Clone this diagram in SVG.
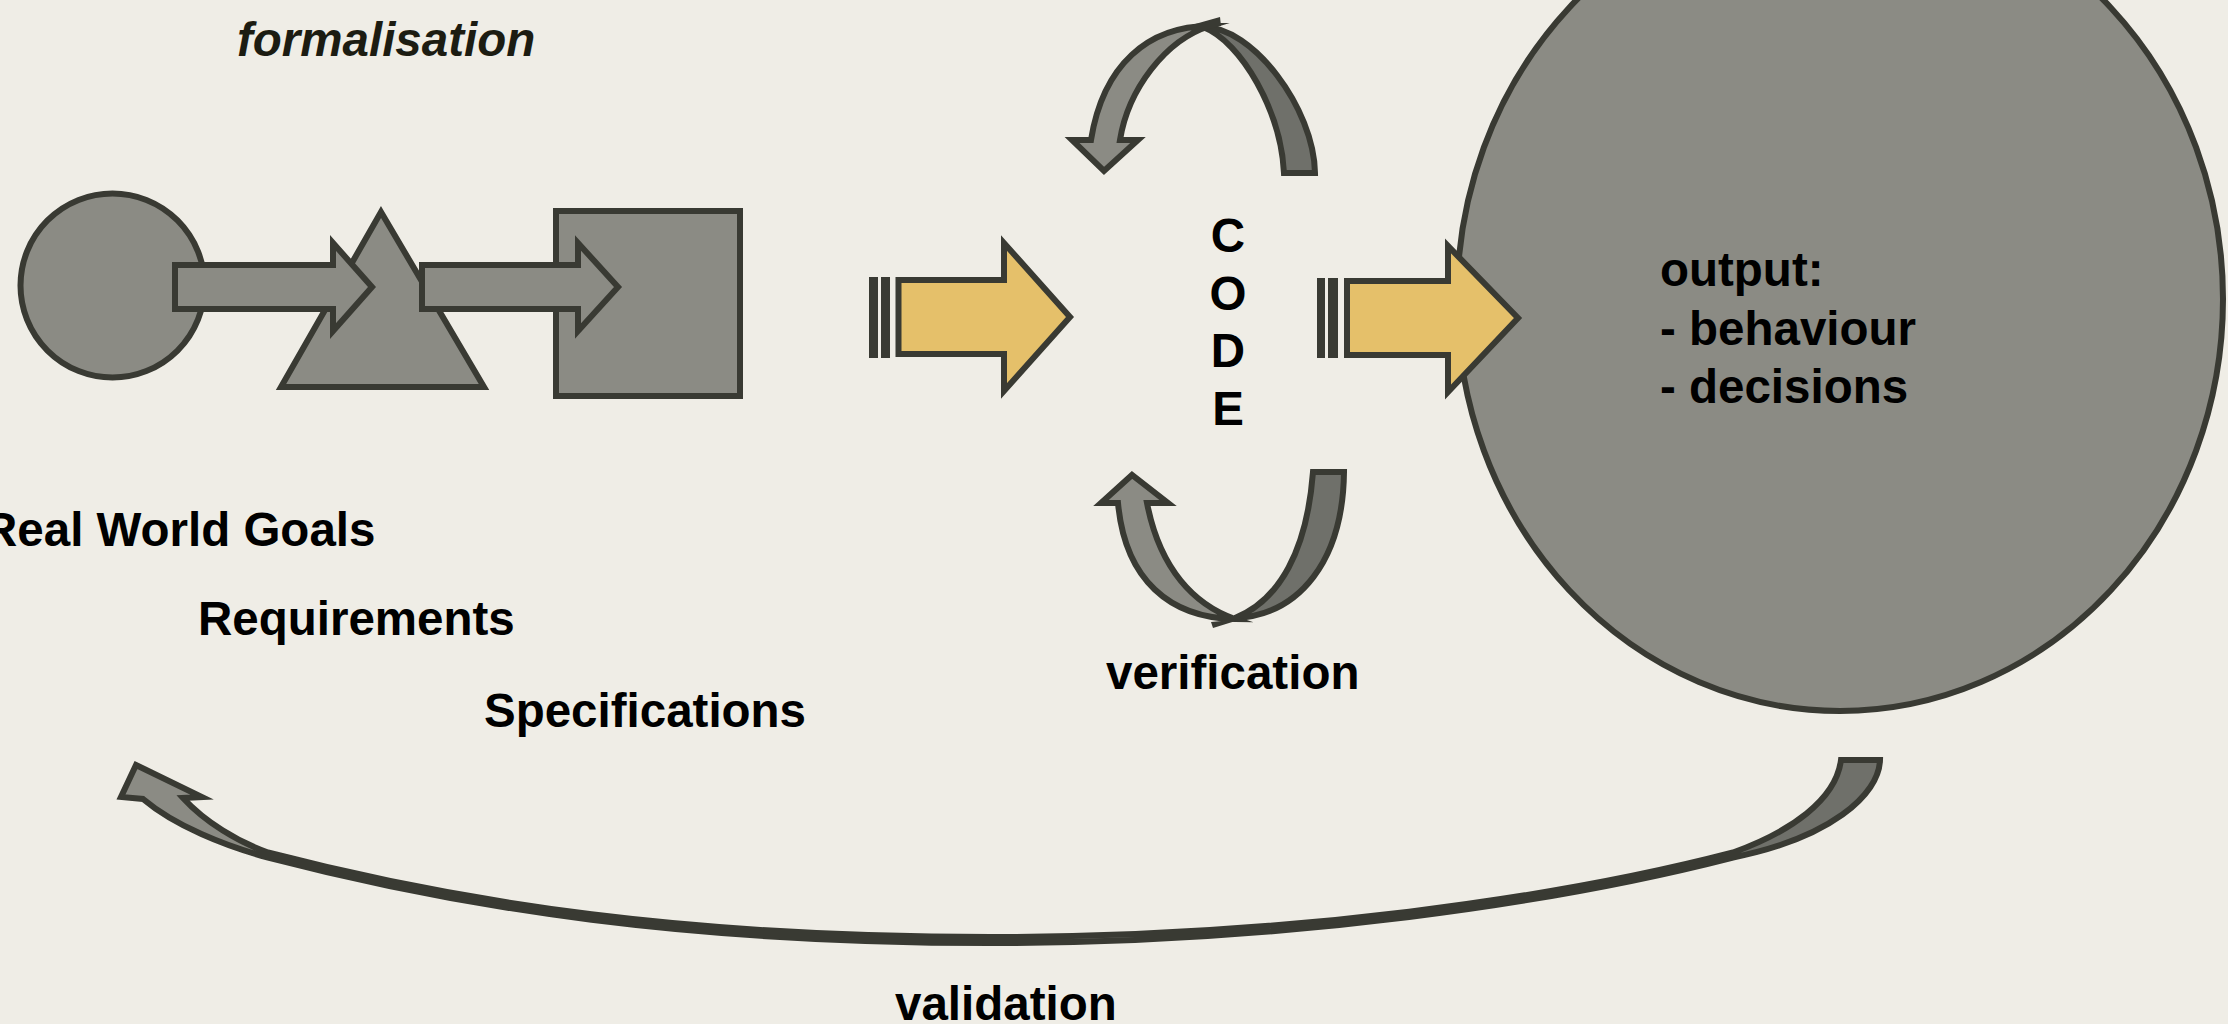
<svg xmlns="http://www.w3.org/2000/svg" width="2228" height="1024" viewBox="0 0 2228 1024">
  <style>
    .shape { fill: #8b8b84; stroke: #393a33; stroke-width: 6; stroke-linejoin: miter; stroke-miterlimit: 10; }
    .back { fill: #6f706a; stroke: #393a33; stroke-width: 6; stroke-linejoin: miter; }
    .yellow { fill: #e5c06a; stroke: #393a33; stroke-width: 6; stroke-miterlimit: 10; }
    .bar { fill: #393a33; }
    .ink { fill: #393a33; }
    .lbl { font-family: "Liberation Sans", Arial, sans-serif; font-weight: bold; font-size: 47.5px; fill: #000; }
    .ital { font-style: italic; fill: #1c1c12; }
  </style>

  <rect width="2228" height="1024" fill="#efede6"/>

  <!-- Formalisation chain: goal circle, requirement triangle, specification square -->
  <g id="label-formalisation">
    <text class="lbl ital" x="237" y="56">formalisation</text>
  </g>
  <g id="node-goals">
    <circle class="shape" cx="112.5" cy="285.5" r="92"/>
  </g>
  <g id="node-requirements">
    <polygon class="shape" points="381,212 484,387 281,387"/>
  </g>
  <g id="node-specifications">
    <rect class="shape" x="556" y="211" width="184" height="185"/>
  </g>

  <!-- CODE, written top to bottom -->
  <g id="node-code">
    <text class="lbl" text-anchor="middle" x="1228" y="252">C</text>
    <text class="lbl" text-anchor="middle" x="1228" y="310">O</text>
    <text class="lbl" text-anchor="middle" x="1228" y="367">D</text>
    <text class="lbl" text-anchor="middle" x="1228" y="425">E</text>
  </g>

  <!-- Output ellipse -->
  <g id="node-output">
    <ellipse class="shape" cx="1840" cy="299" rx="383" ry="412"/>
    <text class="lbl" x="1660" y="286">output:</text>
    <text class="lbl" x="1660" y="344.5">- behaviour</text>
    <text class="lbl" x="1660" y="403">- decisions</text>
  </g>

  <!-- Level labels -->
  <g id="labels">
    <text class="lbl" x="-17" y="546">Real World Goals</text>
    <text class="lbl" x="198" y="635">Requirements</text>
    <text class="lbl" x="484" y="727">Specifications</text>
    <text class="lbl" x="1106" y="689">verification</text>
    <text class="lbl" x="895" y="1020">validation</text>
  </g>

  <g id="connectors">
    <!-- block arrows of the formalisation chain -->
    <path class="shape" d="M175,265 H333 V243 L372,287 L333,331 V309 H175 Z"/>
    <path class="shape" d="M422,265 H578 V243 L618,287 L578,331 V309 H422 Z"/>

    <!-- striped yellow arrow into CODE -->
    <rect class="bar" x="869" y="277" width="9" height="81"/>
    <rect class="bar" x="881" y="277" width="9" height="81"/>
    <path class="yellow" d="M898.5,280 H1004 V243 L1070,317 L1004,391 V354 H898.5 Z"/>

    <!-- striped yellow arrow out of CODE -->
    <rect class="bar" x="1317" y="278" width="8" height="80"/>
    <rect class="bar" x="1328" y="278" width="10" height="80"/>
    <path class="yellow" d="M1347,281 H1448 V246 L1518,318 L1448,392 V355 H1347 Z"/>

    <!-- upper loop arrow around CODE -->
    <path class="back" d="M1203,27 C1252,26 1314,108 1315,173 L1284,173 C1281,112 1242,42 1203,27 Z"/>
    <path class="shape" d="M1120,140 L1138,140 L1104,171 L1072,140 L1091,140 C1103,65 1148,26 1210,26 C1165,40 1128,90 1120,140 Z"/>
    <path class="ink" d="M1188,26 L1220,17 L1221,26 Z"/>

    <!-- lower loop arrow (verification) -->
    <path class="back" d="M1344,472 C1343,560 1300,615 1235,618 C1280,600 1307,550 1313,472 Z"/>
    <path class="shape" d="M1147,503 L1168,503 L1132,475 L1101,503 L1118,503 C1125,580 1170,618 1235,619 C1195,605 1160,570 1147,503 Z"/>
    <path class="ink" d="M1211,622 L1242,619 L1213,628 Z"/>

    <!-- validation arc from the output back to the goals: two tapered ribbons meeting under the middle -->
    <path class="back" d="M1841,760 L1880,760 C1879,795 1830,838 1733,857.5 C1560,902 1290,943 990,943 L990,937 C1290,937 1560,897.5 1733,852.5 C1790,832 1836,800 1841,760 Z"/>
    <path class="shape" d="M136,765 L202,797 L183,798 C205,822 238,842 268,852.5 C468,904.5 690,937 990,937 L990,943 C690,943 468,909.5 268,857.5 C225,846 175,826 143,799 L121,797 Z"/>
  </g>
</svg>
